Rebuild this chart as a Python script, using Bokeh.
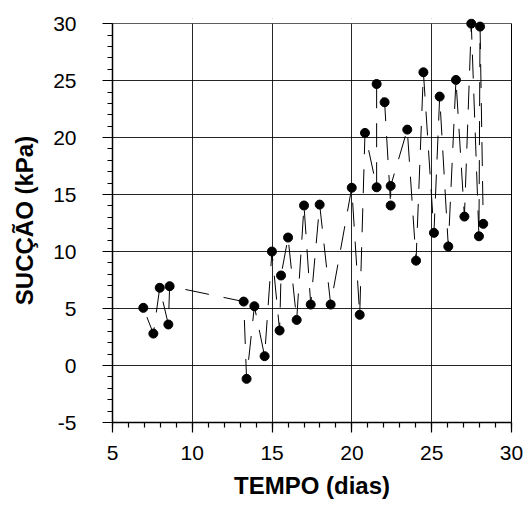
from bokeh.plotting import figure
from bokeh.models import (FixedTicker, ColumnDataSource, PrintfTickFormatter,
                          LinearAxis, BoxAnnotation)
from bokeh.embed import file_html
from bokeh.resources import INLINE

# Data (connection order)
tempo = [6.93, 7.56, 7.96, 8.50, 8.58, 13.22, 13.40, 13.89, 14.53, 14.99,
         15.47, 15.56, 16.00, 16.54, 17.00, 17.42, 17.98, 18.67, 19.99, 20.49,
         20.82, 21.55, 21.55, 22.05, 22.43, 22.43, 23.47, 24.02, 24.48, 25.14,
         25.50, 26.04, 26.52, 27.05, 27.48, 27.96, 28.03, 28.23]
succao = [5.06, 2.80, 6.82, 3.60, 6.96, 5.61, -1.17, 5.20, 0.82, 10.00,
          3.07, 7.90, 11.23, 4.00, 14.04, 5.35, 14.12, 5.35, 15.60, 4.45,
          20.41, 15.64, 24.70, 23.10, 14.04, 15.76, 20.70, 9.20, 25.73, 11.64,
          23.60, 10.44, 25.06, 13.07, 30.00, 11.34, 29.74, 12.43]

x_ticks = [5, 10, 15, 20, 25, 30]
y_ticks = [-5, 0, 5, 10, 15, 20, 25, 30]
x_minor = list(range(5, 31))
y_minor = list(range(-5, 31))
x_label = "TEMPO (dias)"
y_label = "SUCÇÃO (kPa)"

src = ColumnDataSource(dict(x=tempo, y=succao))

p = figure(width=525, height=505, x_range=(5, 30), y_range=(-5, 30.45),
           output_backend="svg", toolbar_location=None,
           min_border_left=112, min_border_right=14,
           min_border_top=18, min_border_bottom=83)
p.background_fill_color = "white"
p.border_fill_color = "white"
p.outline_line_color = None

p.xgrid.ticker = FixedTicker(ticks=x_ticks)
p.ygrid.ticker = FixedTicker(ticks=y_ticks)
p.grid.grid_line_color = "black"
p.grid.grid_line_width = 1
p.grid.grid_line_alpha = 0.85

# hide the grid stubs above the top line (frame extended so top markers are not clipped)
p.add_layout(BoxAnnotation(bottom=30.04, fill_color="white", fill_alpha=1.0,
                           line_color=None, level="underlay"))

p.line("x", "y", source=src, line_color="black", line_width=1,
       line_dash="24 15", line_dash_offset=29)
p.scatter("x", "y", source=src, size=9, fill_color="black", line_color="black")

for ax, ticks, minor in ((p.xaxis[0], x_ticks, x_minor), (p.yaxis[0], y_ticks, y_minor)):
    ax.ticker = FixedTicker(ticks=ticks, minor_ticks=minor)
    ax.formatter = PrintfTickFormatter(format="%d")
    ax.axis_line_color = "black"
    ax.axis_line_width = 1.5
    ax.major_tick_line_color = "black"
    ax.minor_tick_line_color = "black"
    ax.major_tick_line_width = 1.2
    ax.minor_tick_line_width = 1.2
    ax.major_tick_in = 0
    ax.major_tick_out = 10
    ax.minor_tick_in = 0
    ax.minor_tick_out = 5
    ax.major_label_text_font = "Liberation Sans"
    ax.major_label_text_font_size = "21px"
    ax.major_label_text_color = "black"
    ax.axis_label_text_font = "Liberation Sans"
    ax.axis_label_text_font_style = "bold"
    ax.axis_label_text_font_size = "24px"
    ax.axis_label_text_color = "black"

p.yaxis.bounds = (-5, 30)
p.xaxis.axis_label = x_label
p.xaxis.major_label_standoff = 13
p.yaxis.major_label_standoff = 26
p.xaxis.axis_label_standoff = 9

# right frame line
right_axis = LinearAxis(ticker=FixedTicker(ticks=[]), bounds=(-5, 30),
                        axis_line_color="black", axis_line_width=1,
                        major_tick_line_color=None, minor_tick_line_color=None,
                        major_label_text_font_size="0px", major_label_standoff=0)
p.add_layout(right_axis, "right")

# y axis title (centred on 0..30 as in the reference)
title_axis = LinearAxis(ticker=FixedTicker(ticks=[]), bounds=(0, 30),
                        axis_line_color=None,
                        major_tick_line_color=None, minor_tick_line_color=None,
                        major_tick_out=0, minor_tick_out=0,
                        major_label_text_font_size="0px", major_label_standoff=0,
                        axis_label=y_label, axis_label_standoff=13,
                        axis_label_text_font="Liberation Sans",
                        axis_label_text_font_style="bold",
                        axis_label_text_font_size="24px",
                        axis_label_text_color="black")
p.add_layout(title_axis, "left")

open("out.html", "w").write(file_html(p, INLINE))
